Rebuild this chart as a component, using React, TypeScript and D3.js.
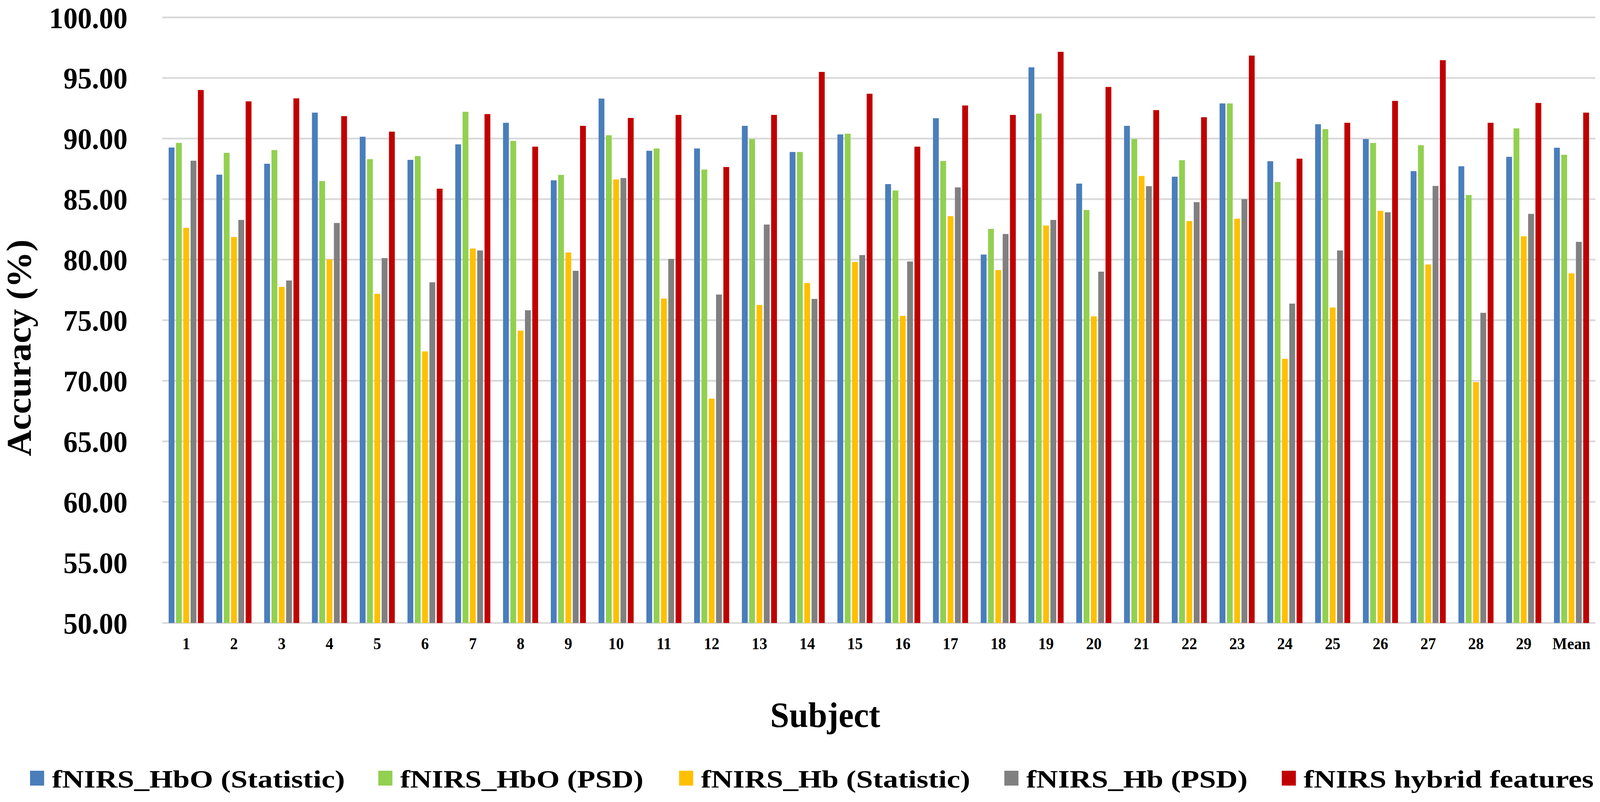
import React from "react";
import * as d3 from "d3";

const subjects = ["1","2","3","4","5","6","7","8","9","10","11","12","13","14","15","16","17","18","19","20","21","22","23","24","25","26","27","28","29","Mean"];

const seriesNames = [
  "fNIRS_HbO (Statistic)",
  "fNIRS_HbO (PSD)",
  "fNIRS_Hb (Statistic)",
  "fNIRS_Hb (PSD)",
  "fNIRS hybrid features",
];

const seriesColors = ["#4A7EBB", "#92D050", "#FFC000", "#808080", "#C00000"];

const hboStatistic = [89.26,87.02,87.92,92.14,90.15,88.24,89.52,91.30,86.55,93.30,88.99,89.18,91.05,88.89,90.34,86.24,91.68,80.42,95.88,86.28,91.05,86.85,92.90,88.13,91.18,89.96,87.31,87.71,88.49,89.24];
const hboPSD = [89.64,88.82,89.05,86.49,88.30,88.55,92.21,89.81,87.00,90.27,89.18,87.44,89.96,88.89,90.40,85.71,88.15,82.54,92.06,84.10,89.96,88.21,92.90,86.41,90.78,89.64,89.45,85.34,90.84,88.66];
const hbStatistic = [82.63,81.87,77.75,80.02,77.18,72.42,80.92,74.14,80.59,86.62,76.79,68.53,76.26,78.07,79.81,75.36,83.59,79.14,82.82,75.32,86.91,83.19,83.38,71.81,76.05,84.03,79.60,69.89,81.93,78.87];
const hbPSD = [88.17,83.28,78.28,83.03,80.13,78.13,80.76,75.82,79.08,86.74,80.06,77.12,82.90,76.76,80.38,79.85,85.97,82.12,83.28,79.01,86.07,84.75,85.00,76.37,80.76,83.91,86.09,75.61,83.78,81.47];
const hybrid = [94.01,93.07,93.32,91.85,90.57,85.86,92.02,89.33,91.05,91.70,91.95,87.65,91.95,95.50,93.70,89.33,92.73,91.95,97.16,94.26,92.35,91.76,96.85,88.34,91.30,93.11,96.47,91.30,92.94,92.14];

const seriesValues = [hboStatistic, hboPSD, hbStatistic, hbPSD, hybrid];

const yTicks = [50, 55, 60, 65, 70, 75, 80, 85, 90, 95, 100];

const W = 4314;
const H = 2052;
const plotLeft = 437.6;
const plotRight = 4301.6;
const plotTop = 44.6;
const plotBottom = 1594;

const FONT = "'Liberation Serif', 'Times New Roman', serif";

// legend layout (positions only)
const legendX = [81, 1020, 1831, 2708, 3456];
const legendTextLen = [790, 656, 726, 597, 782];

export default function App() {
  const x0 = d3
    .scaleBand<string>()
    .domain(subjects)
    .range([plotLeft, plotRight])
    .paddingInner(0.266)
    .paddingOuter(0.133);
  const x1 = d3
    .scaleBand<number>()
    .domain(d3.range(seriesNames.length))
    .range([0, x0.bandwidth()])
    .paddingInner(0.203)
    .paddingOuter(0);
  const y = d3.scaleLinear().domain([50, 100]).range([plotBottom, plotTop]);

  return (
    <div
      style={{
        position: "fixed",
        left: 0,
        top: 0,
        width: "100vw",
        height: "100vh",
        overflow: "hidden",
        background: "#fff",
      }}
    >
      <svg
        width="100%"
        height="100%"
        viewBox={`0 0 ${W} ${H}`}
        preserveAspectRatio="none"
        style={{ display: "block" }}
      >
        <rect x={0} y={0} width={W} height={H} fill="#fff" />
        {/* gridlines */}
        {yTicks.map((t) => (
          <line
            key={t}
            x1={plotLeft}
            x2={plotRight}
            y1={y(t)}
            y2={y(t)}
            stroke="#D9D9D9"
            strokeWidth={4.5}
          />
        ))}
        {/* y tick labels */}
        {yTicks.map((t) => (
          <text
            key={"yl" + t}
            x={344}
            y={y(t)}
            dy="0.35em"
            textAnchor="end"
            fontFamily={FONT}
            fontWeight="bold"
            fontSize={77}
            fill="#000"
          >
            {d3.format(".2f")(t)}
          </text>
        ))}
        {/* bars */}
        {subjects.map((s, i) => (
          <g key={s} transform={`translate(${x0(s)},0)`}>
            {seriesValues.map((vals, k) => (
              <rect
                key={k}
                x={x1(k)}
                y={y(vals[i])}
                width={x1.bandwidth()}
                height={y(50) - y(vals[i])}
                fill={seriesColors[k]}
              />
            ))}
          </g>
        ))}
        {/* x tick labels */}
        {subjects.map((s) => (
          <text
            key={"xl" + s}
            x={(x0(s) as number) + x0.bandwidth() / 2}
            y={1661}
            textAnchor="middle"
            fontFamily={FONT}
            fontWeight="bold"
            fontSize={42}
            fill="#000"
          >
            {s}
          </text>
        ))}
        {/* axis titles */}
        <text
          transform={`translate(82, 890) rotate(-90)`}
          textAnchor="middle"
          fontFamily={FONT}
          fontWeight="bold"
          fontSize={93}
          fill="#000"
        >
          Accuracy (%)
        </text>
        <text
          x={2225}
          y={1860}
          textAnchor="middle"
          fontFamily={FONT}
          fontWeight="bold"
          fontSize={92}
          fill="#000"
        >
          Subject
        </text>
        {/* legend */}
        {seriesNames.map((n, k) => (
          <g key={"lg" + k}>
            <rect x={legendX[k]} y={1972} width={38} height={38} fill={seriesColors[k]} />
            <text
              x={legendX[k] + 59}
              y={2015}
              fontFamily={FONT}
              fontWeight="bold"
              fontSize={64}
              textLength={legendTextLen[k]}
              lengthAdjust="spacingAndGlyphs"
              fill="#000"
            >
              {n}
            </text>
          </g>
        ))}
      </svg>
    </div>
  );
}
